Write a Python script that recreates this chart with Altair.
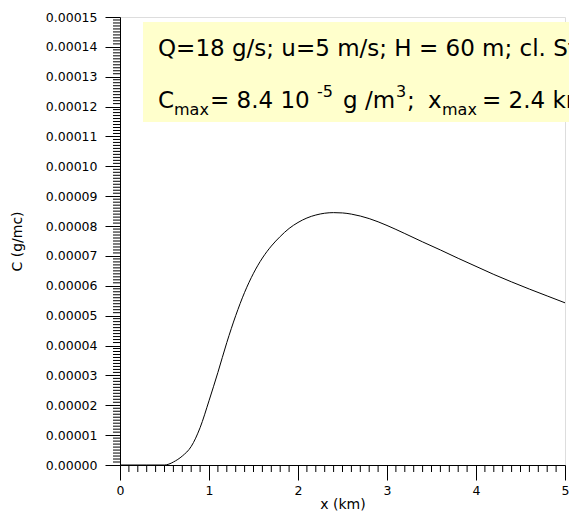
import altair as alt
import pandas as pd

# ---- data ----
x_km = [0.0, 0.3, 0.5, 0.55, 0.6, 0.7, 0.8, 0.9, 1.0, 1.1, 1.2, 1.3, 1.4, 1.5,
        1.6, 1.7, 1.8, 1.9, 2.0, 2.1, 2.2, 2.3, 2.4, 2.5, 2.6, 2.8, 3.0, 3.2,
        3.4, 3.6, 3.8, 4.0, 4.2, 4.4, 4.6, 4.8, 5.0]
c_e5 = [0.0, 0.0, 0.0, 0.03, 0.1, 0.3, 0.62, 1.25, 2.15, 3.1, 4.1, 5.0, 5.78, 6.42,
        6.93, 7.33, 7.65, 7.92, 8.12, 8.27, 8.37, 8.43, 8.45, 8.44, 8.40, 8.25, 8.02, 7.75,
        7.47, 7.2, 6.92, 6.65, 6.38, 6.13, 5.89, 5.66, 5.43]
c_gmc = [round(v * 1e-5, 12) for v in c_e5]

x_major = [0, 1, 2, 3, 4, 5]
x_minor = [round(i / 10, 6) for i in range(51) if i % 10 != 0]
y_major = [round(i * 1e-5, 10) for i in range(16)]
y_minor = [round(i * 1e-6, 10) for i in range(151) if i % 10 != 0]

line1 = "Q=18 g/s; u=5 m/s; H = 60 m; cl. Stab. D"

FONT = "DejaVu Sans"
W, H = 445, 448

df = pd.DataFrame({"x": x_km, "c": c_gmc})
xs = alt.Scale(domain=[0, 5], nice=False, zero=False)
ys = alt.Scale(domain=[0, 0.00015], nice=False)

xaxis = alt.Axis(values=x_major, format="d", tickSize=15, labelPadding=4,
                 labelFontSize=12.5, labelFont=FONT, labelFlush=False,
                 title="x (km)", titleFont=FONT,
                 titleFontSize=14, titleFontWeight="normal", titlePadding=1,
                 grid=False, domainColor="black", tickColor="black", labelColor="black",
                 titleColor="black")
yaxis = alt.Axis(values=y_major, format=".5f", tickSize=15, labelPadding=8,
                 labelFontSize=12.5, labelFont=FONT, labelFlush=False,
                 title="C (g/mc)", titleFont=FONT,
                 titleFontSize=14, titleFontWeight="normal", titlePadding=21,
                 grid=False, domainColor="black", tickColor="black", labelColor="black",
                 titleColor="black")

curve = alt.Chart(df).mark_line(color="black", strokeWidth=1, interpolate="monotone").encode(
    x=alt.X("x:Q", scale=xs, axis=xaxis),
    y=alt.Y("c:Q", scale=ys, axis=yaxis),
)

xmin_df = pd.DataFrame({"x": x_minor})
xminor = alt.Chart(xmin_df).mark_rule(color="black", strokeWidth=1).encode(
    x=alt.X("x:Q", scale=xs, axis=xaxis),
    y=alt.value(H), y2=alt.value(H + 7),
)
ymin_df = pd.DataFrame({"c": y_minor})
yminor = alt.Chart(ymin_df).mark_rule(color="black", strokeWidth=1).encode(
    y=alt.Y("c:Q", scale=ys, axis=yaxis),
    x=alt.value(0), x2=alt.value(-7),
)

box = alt.Chart(pd.DataFrame({"a": [0]})).mark_rect(color="#FFFFCC").encode(
    x=alt.value(23), x2=alt.value(520), y=alt.value(5), y2=alt.value(105)
)

def txt(s, x, y, size):
    return alt.Chart(pd.DataFrame({"t": [s]})).mark_text(
        font=FONT, fontSize=size, color="black", align="left", baseline="alphabetic"
    ).encode(text="t:N", x=alt.value(x), y=alt.value(y))

BIG, SMALL = 23, 16
texts = [
    txt(line1, 38, 39, BIG),
    txt("C", 38, 91, BIG),
    txt("max", 54, 98, SMALL),
    txt("= 8.4 10", 90, 91, BIG),
    txt("-5", 197, 80, SMALL),
    txt("g /m", 223, 91, BIG),
    txt("3", 276, 80, SMALL),
    txt(";", 287, 91, BIG),
    txt("x", 308, 91, BIG),
    txt("max", 322, 98, SMALL),
    txt("= 2.4 km", 362, 91, BIG),
]

chart = alt.layer(box, *texts, xminor, yminor, curve).properties(
    width=W, height=H,
    autosize=alt.AutoSizeParams(type="none"),
    padding={"left": 112, "top": 9, "right": 4, "bottom": 49},
).configure_view(stroke=None).configure(background="white")

chart.save("out.html", embed_options={"renderer": "svg", "actions": False})
